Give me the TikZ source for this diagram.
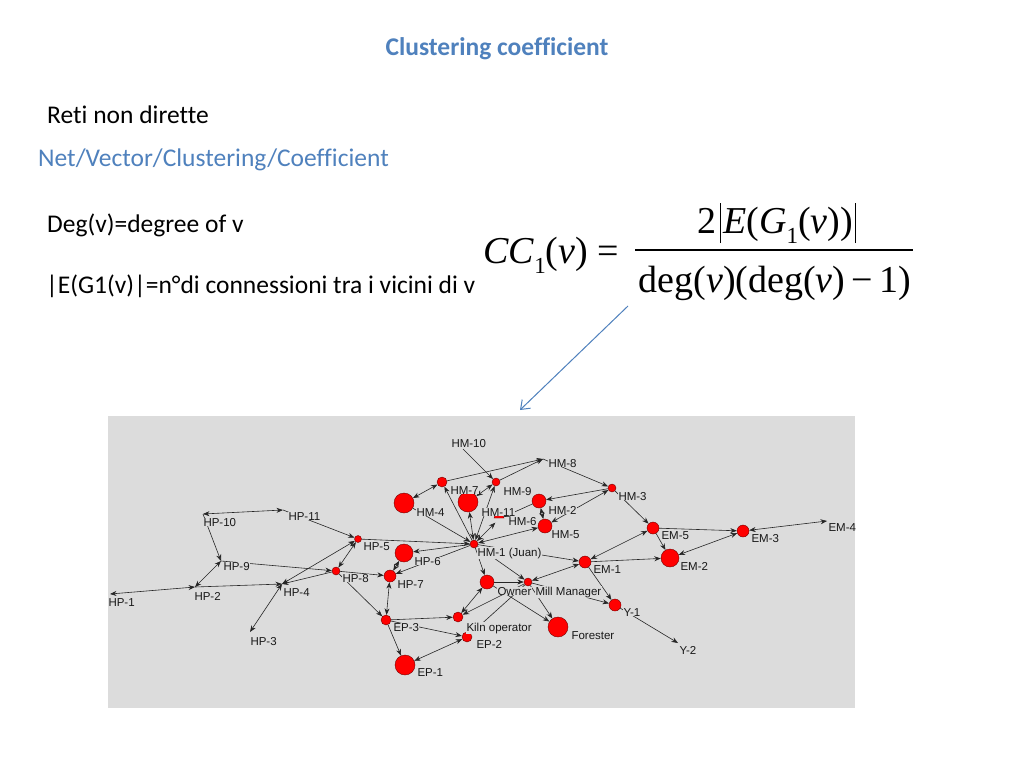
\documentclass[tikz,border=0pt]{standalone}
\usepackage{fontspec}
\setmainfont[Ligatures=NoCommon]{Carlito}
\newfontfamily\tnr{Liberation Serif}
\newfontfamily\arialf{Liberation Sans}
\usetikzlibrary{arrows.meta}
\definecolor{titleblue}{HTML}{4F81BD}
\definecolor{netgray}{HTML}{DCDCDC}
\definecolor{nodered}{HTML}{FF0000}
\newcommand\subone{\raisebox{-0.28em}{\fontsize{23}{23}\selectfont 1}}
\begin{document}
\begin{tikzpicture}[x=1pt,y=-1pt,
  vert/.style={circle, fill=nodered, draw=black!55!red, line width=0.4pt, inner sep=0pt},
  edge/.style={draw=black!85, line width=0.6pt},
  arr/.style={edge, -{Stealth[length=6.5pt,width=5pt]}},
  bi/.style={edge, {Stealth[length=6.5pt,width=5pt]}-{Stealth[length=6.5pt,width=5pt]}},
  lbl/.style={font=\arialf\fontsize{11.5}{12}\selectfont, text=black!90, fill=netgray, inner sep=0.3pt, anchor=base west},
  slide/.style={font=\fontsize{25.5}{30}\selectfont, anchor=base west, inner sep=0pt},
  fml/.style={font=\tnr\fontsize{38}{44}\selectfont, inner sep=0pt, anchor=base}]
\useasboundingbox[fill=white] (0,0) rectangle (1024,768);

% ---------- texts ----------
\node[font=\bfseries\fontsize{25.5}{30}\selectfont, text=titleblue, inner sep=0pt, anchor=base] (title) at (497,56) {Clustering coefficient};
\node[slide] (t1) at (47,123) {Reti non dirette};
\node[slide, text=titleblue] (t2) at (38,166) {Net/Vector/Clustering/Coefficient};
\node[slide] (t3) at (47,232) {Deg(v)=degree of v};
\node[slide] (t4) at (46,293) {|E(G1(v)|=n°di connessioni tra i vicini di v};

% ---------- formula ----------
\node[fml, anchor=base west] (lhs) at (483,263) {\textit{CC}\subone(\textit{v}) =};
\node[fml] (num) at (777,233) {2\kern3pt\vrule width 1.2pt height 30pt depth 10pt\kern2pt\textit{E}(\textit{G}\subone(\textit{v}))\kern2pt\vrule width 1.2pt height 30pt depth 10pt};
\node[fml] (den) at (775,292) {deg(\textit{v})(deg(\textit{v})\,\textminus\,1)};
\coordinate (barL) at (635,250);
\coordinate (barR) at (913,250);
\draw[line width=1.2pt] (barL) -- (barR);

% ---------- blue arrow ----------
\coordinate (arrS) at (628,306);
\coordinate (arrE) at (520,410);
\draw[titleblue, line width=1pt, -{Straight Barb[length=8pt,width=12pt]}] (arrS) -- (arrE);

% ---------- network ----------
\fill[netgray] (108,416) rectangle (855,708);
\begin{scope}
\clip (108,416) rectangle (855,708);
% vertices
\node[vert, minimum size=8pt]  (HM1) at (474,544) {};
\node[vert, minimum size=20pt] (HM4) at (404,503) {};
\node[vert, minimum size=10pt] (HM7) at (442,482) {};
\node[vert, minimum size=20pt] (HM11) at (468,502) {};
\node[vert, minimum size=8pt]  (HM9) at (496,482) {};
\node[circle, inner sep=0pt, minimum size=10pt] (HM6) at (499,519) {};
\filldraw[fill=nodered, draw=black!55!red, line width=0.4pt] (494,518) arc (180:360:5) -- cycle;
\node[vert, minimum size=14pt] (HM2) at (539,501) {};
\node[vert, minimum size=14pt] (HM5) at (545,526) {};
\node[vert, minimum size=8pt]  (HM3) at (612,488) {};
\node[vert, minimum size=7pt]  (HP5) at (358,539) {};
\node[vert, minimum size=18pt] (HP6) at (404,553) {};
\node[vert, minimum size=8pt]  (HP8) at (336,571) {};
\node[vert, minimum size=12pt] (HP7) at (390,576) {};
\node[vert, minimum size=10pt] (EP3) at (386,620) {};
\node[vert, minimum size=14pt] (Owner) at (487,582) {};
\node[vert, minimum size=8pt]  (MM) at (528,582) {};
\node[vert, minimum size=10pt] (Kiln) at (458,617) {};
\node[vert, minimum size=10pt] (EP2) at (467,637) {};
\node[vert, minimum size=20pt] (EP1) at (405,665) {};
\node[vert, minimum size=20pt] (Forester) at (558,627) {};
\node[vert, minimum size=12pt] (EM1) at (585,562) {};
\node[vert, minimum size=12pt] (Y1) at (615,605) {};
\node[vert, minimum size=12pt] (EM5) at (653,528) {};
\node[vert, minimum size=18pt] (EM2) at (670,558) {};
\node[vert, minimum size=12pt] (EM3) at (743,531) {};
\coordinate (HP10) at (203,514);
\coordinate (HP11) at (283,510);
\coordinate (HP9) at (221,561);
\coordinate (HP2) at (195,587);
\coordinate (HP1) at (110,594);
\coordinate (HP4) at (282,584);
\coordinate (HP3) at (250,632);
\coordinate (HM10) at (463,449);
\coordinate (HM8) at (543,459);
\coordinate (Y2) at (678,643);
\coordinate (EM4) at (827,521);

% edges
\draw[bi]  (HP1) -- (HP2);
\draw[arr] (HP2) -- (HP4);
\draw[bi]  (HP10) -- (HP11);
\draw[arr] (HP10) -- (HP9);
\draw[bi]  (HP9) -- (HP2);
\draw[arr] (HP9) -- (HP8);
\draw[bi]  (HP4) -- (HP3);
\draw[bi]  (HP4) -- (HP5);
\draw[arr] (HP8) -- (HP4);
\draw[arr] (HP11) -- (HP5);
\draw[bi]  (HP5) -- (HP8);
\draw[arr] (HP5) -- (HM1);
\draw[arr] (HM1) -- (HP6);
\draw[arr] (HM1) -- (HP7);
\draw[arr] (HP8) -- (HP7);
\draw[bi]  (HP6) -- (HP7);
\draw[bi]  (HP7) -- (EP3);
\draw[arr] (HP8) -- (EP3);
\draw[arr] (EP3) -- (Kiln);
\draw[arr] (EP3) -- (EP2);
\draw[arr] (EP3) -- (EP1);
\draw[bi]  (EP2) -- (EP1);
\draw[bi]  (Owner) -- (Kiln);
\draw[arr] (MM) -- (Kiln);
\draw[edge] (MM) -- (EP2);
\draw[arr] (Owner) -- (MM);
\draw[arr] (Owner) -- (Forester);
\draw[arr] (MM) -- (Forester);
\draw[arr] (MM) -- (Y1);
\draw[bi]  (EM1) -- (MM);
\draw[arr] (HM1) -- (Owner);
\draw[arr] (HM1) -- (MM);
\draw[arr] (HM1) -- (EM1);
\draw[bi]  (EM1) -- (EM5);
\draw[arr] (EM1) -- (EM2);
\draw[arr] (EM1) -- (Y1);
\draw[arr] (Y1) -- (Y2);
\draw[arr] (EM5) -- (EM2);
\draw[arr] (EM5) -- (EM3);
\draw[bi]  (EM3) -- (EM2);
\draw[bi]  (EM3) -- (EM4);
\draw[arr] (HM3) -- (EM5);
\draw[arr] (HM8) -- (HM3);
\draw[arr] (HM3) -- (HM2);
\draw[bi]  (HM5) -- (HM3);
\draw[bi]  (HM2) -- (HM5);
\draw[arr] (HM2) -- (HM6);
\draw[bi]  (HM1) -- (HM5);
\draw[bi]  (HM1) -- (HM6);
\draw[bi]  (HM1) -- (HM11);
\draw[bi]  (HM1) -- (HM9);
\draw[arr] (HM1) -- (HM7);
\draw[arr] (HM4) -- (HM1);
\draw[bi]  (HM7) -- (HM4);
\draw[arr] (HM7) -- (HM8);
\draw[arr] (HM9) -- (HM8);
\draw[arr] (HM10) -- (HM9);
\draw[bi]  (HM9) -- (HM11);

% labels
\node[lbl] (lHM10) at (451,447) {HM-10};
\node[lbl] (lHM8) at (548,467) {HM-8};
\node[lbl] (lHM7) at (450,494) {HM-7};
\node[lbl] (lHM9) at (503,495) {HM-9};
\node[lbl] (lHM4) at (416,516) {HM-4};
\node[lbl] (lHM11) at (481,516) {HM-11};
\node[lbl] (lHM2) at (548,514) {HM-2};
\node[lbl] (lHM6) at (508,525) {HM-6};
\node[lbl] (lHM5) at (551,538) {HM-5};
\node[lbl] (lHM3) at (618,500) {HM-3};
\node[lbl] (lHM1) at (477,556) {HM-1 (Juan)};
\node[lbl] (lHP10) at (203,526) {HP-10};
\node[lbl] (lHP11) at (288,520) {HP-11};
\node[lbl] (lHP5) at (363,550) {HP-5};
\node[lbl] (lHP6) at (414,565) {HP-6};
\node[lbl] (lHP9) at (223,570) {HP-9};
\node[lbl] (lHP8) at (342,582) {HP-8};
\node[lbl] (lHP7) at (397,588) {HP-7};
\node[lbl] (lHP2) at (194,600) {HP-2};
\node[lbl] (lHP4) at (283,596) {HP-4};
\node[lbl] (lHP1) at (108,606) {HP-1};
\node[lbl] (lHP3) at (250,645) {HP-3};
\node[lbl] (lEP3) at (393,631) {EP-3};
\node[lbl] (lEP2) at (476,648) {EP-2};
\node[lbl] (lEP1) at (417,676) {EP-1};
\node[lbl] (lOwner) at (497,595) {Owner};
\node[lbl] (lMM) at (535,595) {Mill Manager};
\node[lbl] (lKiln) at (466,631) {Kiln operator};
\node[lbl] (lFor) at (571,639) {Forester};
\node[lbl] (lEM1) at (593,573) {EM-1};
\node[lbl] (lEM5) at (661,539) {EM-5};
\node[lbl] (lEM2) at (680,570) {EM-2};
\node[lbl] (lEM3) at (751,542) {EM-3};
\node[lbl] (lEM4) at (828,531) {EM-4};
\node[lbl] (lY1) at (623,616) {Y-1};
\node[lbl] (lY2) at (679,654) {Y-2};
\end{scope}
\end{tikzpicture}
\end{document}
